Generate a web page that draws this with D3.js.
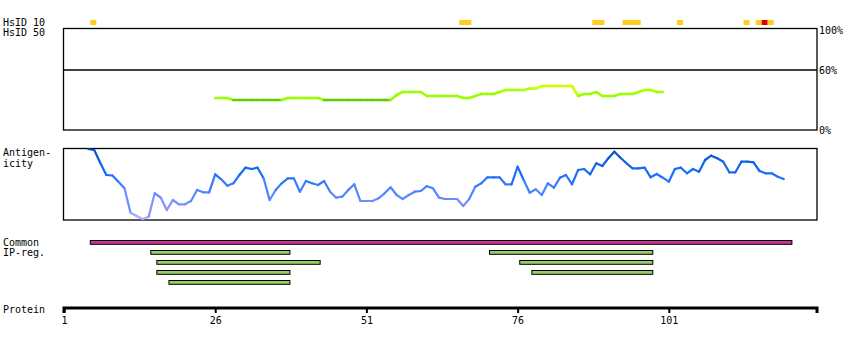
<!DOCTYPE html>
<html>
<head>
<meta charset="utf-8">
<script src="https://cdn.jsdelivr.net/npm/d3@7/dist/d3.min.js"></script>
<style>
  html, body { margin: 0; padding: 0; background: #fff; }
  svg { display: block; }
  text { font-family: "DejaVu Sans Mono", monospace; font-size: 10px; fill: #000; }
</style>
</head>
<body>
<svg id="chart" width="850" height="350"></svg>
<script>
// ---------------- DATA ----------------
const proteinLength = 125;
const proteinTicks = [1, 26, 51, 76, 101];

// HsID 10 blocks (residue start, residue end, level: 1 = medium, 2 = high)
const hsid10Start = [5, 66, 88, 93, 102, 113, 115, 116, 117];
const hsid10End   = [6, 68, 90, 96, 103, 114, 116, 117, 118];
const hsid10Level = [1, 1, 1, 1, 1, 1, 1, 2, 1];

// HsID 50 identity (%) per residue, starting at residue 26
const hsid50First = 26;
const hsid50Values = [
  32, 32, 32,
  30, 30, 30, 30, 30, 30, 30, 30, 30,
  32, 32, 32, 32, 32, 32,
  30, 30, 30, 30, 30, 30, 30, 30, 30, 30, 30, 30,
  35, 38, 38, 38, 38,
  34, 34, 34, 34, 34, 34,
  32, 32, 34, 36, 36, 36, 38, 40, 40, 40, 40, 41.5, 41.5,
  44, 44, 44, 44, 44, 44,
  34, 36, 36, 38, 34, 34, 34, 36, 36, 36, 38, 40, 40, 38, 38
];
const hsid50TickValues = [100, 60, 0];
const hsid50TickLabels = ["100%", "60%", "0%"];

// Antigenicity score per residue, starting at residue 5
const antigenFirst = 5;
const antigenValues = [
  71, 70, 57, 45, 44.5, 38.3, 31.7, 7.3, 4, 1, 3.3,           // 5-15
  26.7, 22.3, 10, 20, 15.7, 15.7, 19, 30, 27.7, 27.7,          // 16-25
  45.7, 40.7, 34.3, 36.7, 45, 52.3, 51, 52.3, 41.7, 20,        // 26-35
  30, 36.7, 41.7, 41.7, 28.3, 39, 36.7, 35, 39, 28.3,          // 36-45
  22.3, 23.3, 30, 35.7, 19, 19, 19, 21.7, 26.7, 32.7,          // 46-55
  25, 21, 25, 28.3, 29, 33.8, 31.7, 22.3, 21, 21,              // 56-65
  21, 14, 21, 33.3, 36.7, 42.7, 42.7, 42.7, 35.7, 35.7,        // 66-75
  53.3, 40, 27.3, 30.7, 25, 36.7, 32.3, 42.3, 45, 35.7,        // 76-85
  50, 51, 45.7, 56.7, 54, 61.7, 68.3, 62.3, 56.7, 51.7,        // 86-95
  51.7, 52.3, 42.7, 46, 42.3, 38.3, 51, 52.3, 46.7, 51,        // 96-105
  48.3, 60, 64.3, 61.7, 58.3, 47.7, 47.7, 58.3, 58.3, 57.7,    // 106-115
  49, 46.7, 46.7, 43.3, 41                                     // 116-120
];
const antigenMax = 72;

// Common IP regions (residue start, residue end, type)
const ipStart = [5, 15, 16, 16, 18, 71, 76, 78];
const ipEnd   = [121, 38, 43, 38, 38, 98, 98, 98];
const ipType  = ["common", "ip", "ip", "ip", "ip", "ip", "ip", "ip"];

// ---------------- DRAW ----------------
const svg = d3.select("#chart");
svg.append("rect").attr("width", 850).attr("height", 350).attr("fill", "#fff");

const left = 64, right = 817;
const x = d3.scaleLinear().domain([1, proteinLength + 0.5]).range([left, right]);
const blockOffset = 0.35;

// Left labels
const labels = [
  ["HsID 10", 26], ["HsID 50", 36],
  ["Antigen-", 156], ["icity", 166.5],
  ["Common", 246], ["IP-reg.", 256],
  ["Protein", 313]
];
svg.selectAll("text.lab").data(labels).join("text")
  .attr("class", "lab").attr("x", 3).attr("y", d => d[1]).text(d => d[0]);

// HsID 10 blocks
const hsidColor = d3.scaleOrdinal().domain([1, 2]).range(["#ffcc22", "#dd0000"]);
svg.selectAll("rect.hsid10").data(hsid10Start.map((s, i) => ({s, e: hsid10End[i], l: hsid10Level[i]})))
  .join("rect").attr("class", "hsid10")
  .attr("x", d => x(d.s + blockOffset)).attr("width", d => x(d.e + blockOffset) - x(d.s + blockOffset))
  .attr("y", 20).attr("height", 5).attr("fill", d => hsidColor(d.l));

// HsID 50 panel
const y50 = d3.scaleLinear().domain([0, 100]).range([130, 30]);
svg.append("rect").attr("x", left - 0.5).attr("y", 28.5).attr("width", right - left + 0.5).attr("height", y50(0) - 28.5)
  .attr("fill", "none").attr("stroke", "#000").attr("stroke-width", 1.3);
svg.append("line").attr("x1", left).attr("x2", right).attr("y1", y50(60)).attr("y2", y50(60))
  .attr("stroke", "#000").attr("stroke-width", 1.3);
svg.selectAll("text.pct").data(hsid50TickValues).join("text").attr("class", "pct")
  .attr("x", right + 2).attr("y", d => y50(d) + 3.6).text((d, i) => hsid50TickLabels[i]);

const greenColor = d3.scaleLinear().domain([30, 31, 38, 44]).range(["#66cc00", "#99ff00", "#99ff00", "#ccff00"]).clamp(true);
const h50 = hsid50Values.map((v, i) => ({r: hsid50First + i, v}));
const segs50 = d3.pairs(h50);
svg.append("g").selectAll("line").data(segs50).join("line")
  .attr("x1", d => x(d[0].r)).attr("y1", d => y50(d[0].v))
  .attr("x2", d => x(d[1].r)).attr("y2", d => y50(d[1].v))
  .attr("stroke", d => greenColor(Math.max(d[0].v, d[1].v)))
  .attr("stroke-width", 2.6).attr("stroke-linecap", "round");

// Antigenicity panel
const yA = d3.scaleLinear().domain([0, antigenMax]).range([220, 148]);
svg.append("rect").attr("x", left - 0.5).attr("y", 148.5).attr("width", right - left + 0.5).attr("height", 71.5)
  .attr("fill", "none").attr("stroke", "#000").attr("stroke-width", 1.3);
const blueColor = d3.scaleLinear()
  .domain([0, 10, 20, 30, 45, 60, 72])
  .range(["#bbaaff", "#9999ff", "#6a8cff", "#4a84ff", "#1a6eff", "#0a60e0", "#0048a8"]);
const ant = antigenValues.map((v, i) => ({r: antigenFirst + i, v}));
svg.append("g").selectAll("line").data(d3.pairs(ant)).join("line")
  .attr("x1", d => x(d[0].r)).attr("y1", d => yA(d[0].v))
  .attr("x2", d => x(d[1].r)).attr("y2", d => yA(d[1].v))
  .attr("stroke", d => blueColor((d[0].v + d[1].v) / 2))
  .attr("stroke-width", 2.2).attr("stroke-linecap", "round");

// IP regions: greedy first-fit row packing in data order
const rowsEnd = [];
const ipData = ipStart.map((s, i) => {
  const e = ipEnd[i];
  let row = rowsEnd.findIndex(re => re < s);
  if (row < 0) { row = rowsEnd.length; rowsEnd.push(e); } else rowsEnd[row] = e;
  return {s, e, t: ipType[i], row};
});
const ipColor = d3.scaleOrdinal().domain(["common", "ip"]).range(["#cc3399", "#99cc66"]);
svg.append("g").selectAll("rect").data(ipData).join("rect")
  .attr("x", d => x(d.s + blockOffset)).attr("width", d => x(d.e + blockOffset) - x(d.s + blockOffset))
  .attr("y", d => 240.5 + d.row * 10).attr("height", 3.8)
  .attr("fill", d => ipColor(d.t)).attr("stroke", "#000").attr("stroke-width", 1);

// Protein axis
const axis = d3.axisBottom(x).tickValues(proteinTicks).tickFormat(d3.format("d"))
  .tickSize(4).tickSizeOuter(4).tickPadding(4);
const gAxis = svg.append("g").attr("transform", "translate(0,309)").call(axis);
gAxis.select(".domain").attr("stroke", "#000").attr("stroke-width", 3).attr("transform", "translate(0,-1)").attr("d", `M${left},5V0H${right}V5`);
gAxis.selectAll(".tick line").attr("stroke", "#000").attr("stroke-width", 2);
gAxis.selectAll(".tick text").attr("font-family", "DejaVu Sans Mono").attr("font-size", 10).attr("fill", "#000");
</script>
</body>
</html>
